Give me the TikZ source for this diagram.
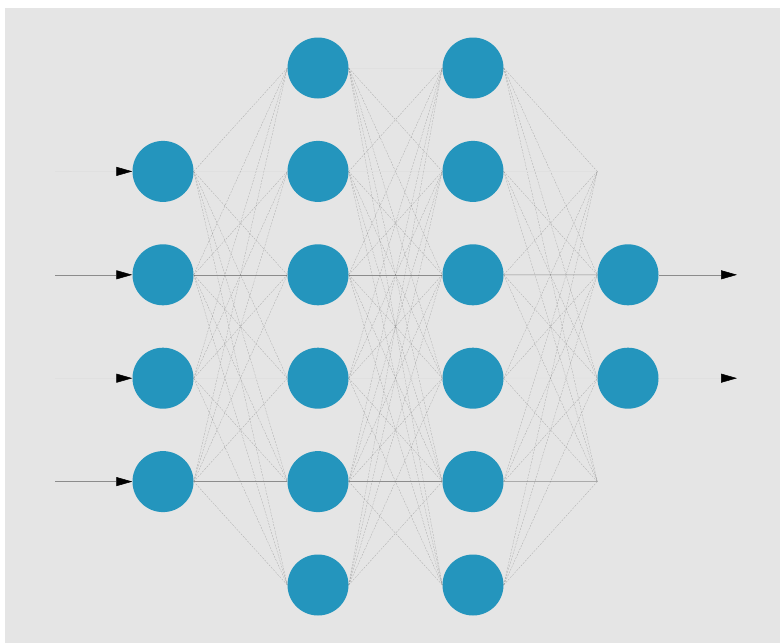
\documentclass[tikz,border=0pt]{standalone}
\usetikzlibrary{arrows.meta}
\definecolor{bggray}{HTML}{E5E5E5}
\definecolor{neuroncol}{HTML}{2495BD}
\pgfdeclarelayer{bg}
\pgfdeclarelayer{edges}
\pgfsetlayers{bg,edges,main}
\begin{document}
\begin{tikzpicture}[x=1pt,y=-1pt,
  neuron/.style={circle,fill=neuroncol,draw=none,minimum size=61pt,inner sep=0pt},
  phantom/.style={circle,draw=none,fill=none,minimum size=61pt,inner sep=0pt},
  link/.style={draw=black!60,line width=0.3pt,dash pattern=on 2pt off 1.2pt,opacity=0.45},
  strongline/.style={draw=black!45,line width=0.5pt},
  faintline/.style={draw=black!12,line width=0.5pt},
  tip/.style={-{Triangle[length=16pt,width=9pt,color=black]}}
]
\useasboundingbox (0,0) rectangle (780,643);
\begin{pgfonlayer}{bg}
  \fill[white] (0,0) rectangle (780,643);
  \fill[bggray] (5,8) rectangle (780,643);
\end{pgfonlayer}

% layers
\foreach \r in {2,...,5}
  \node[neuron] (A\r) at (163,{68+(\r-1)*103.4}) {};
\foreach \r in {1,...,6}
  \node[neuron] (B\r) at (318,{68+(\r-1)*103.4}) {};
\foreach \r in {1,...,6}
  \node[neuron] (C\r) at (473,{68+(\r-1)*103.4}) {};
\node[phantom] (D2) at (628,171.4) {};
\node[neuron]  (D3) at (628,274.8) {};
\node[neuron]  (D4) at (628,378.2) {};
\node[phantom] (D5) at (628,481.6) {};

% input / output ends
\foreach \r in {2,...,5}
  \coordinate (in\r) at (55,{68+(\r-1)*103.4});
\coordinate (out3) at (737,274.8);
\coordinate (out4) at (737,378.2);

\begin{pgfonlayer}{edges}
  % A -> B
  \foreach \i in {2,...,5}{
    \foreach \j in {1,...,6}{
      \ifnum\i=\j\relax
        \ifnum\i=3 \draw[strongline] (A\i.east) -- (B\j.west);
        \else\ifnum\i=5 \draw[strongline] (A\i.east) -- (B\j.west);
        \else \draw[faintline] (A\i.east) -- (B\j.west);\fi\fi
      \else
        \draw[link] (A\i.east) -- (B\j.west);
      \fi
    }
  }
  % B -> C
  \foreach \i in {1,...,6}{
    \foreach \j in {1,...,6}{
      \ifnum\i=\j\relax
        \ifnum\i=3 \draw[strongline] (B\i.east) -- (C\j.west);
        \else\ifnum\i=5 \draw[strongline] (B\i.east) -- (C\j.west);
        \else\ifnum\i=6 \relax
        \else \draw[faintline] (B\i.east) -- (C\j.west);\fi\fi\fi
      \else
        \draw[link] (B\i.east) -- (C\j.west);
      \fi
    }
  }
  % C -> D
  \foreach \i in {1,...,6}{
    \foreach \j in {2,...,5}{
      \ifnum\i=\j\relax
        \ifnum\i=3 \draw[strongline] (C\i.east) -- (D\j.west);
        \else\ifnum\i=5 \draw[strongline] (C\i.east) -- (D\j.west);
        \else \draw[faintline] (C\i.east) -- (D\j.west);\fi\fi
      \else
        \draw[link] (C\i.east) -- (D\j.west);
      \fi
    }
  }
  % inputs
  \draw[faintline,tip]  (in2) -- (A2.west);
  \draw[strongline,tip] (in3) -- (A3.west);
  \draw[faintline,tip]  (in4) -- (A4.west);
  \draw[strongline,tip] (in5) -- (A5.west);
  % outputs
  \draw[strongline,tip] (D3.east) -- (out3);
  \draw[faintline,tip]  (D4.east) -- (out4);
\end{pgfonlayer}
\end{tikzpicture}
\end{document}
